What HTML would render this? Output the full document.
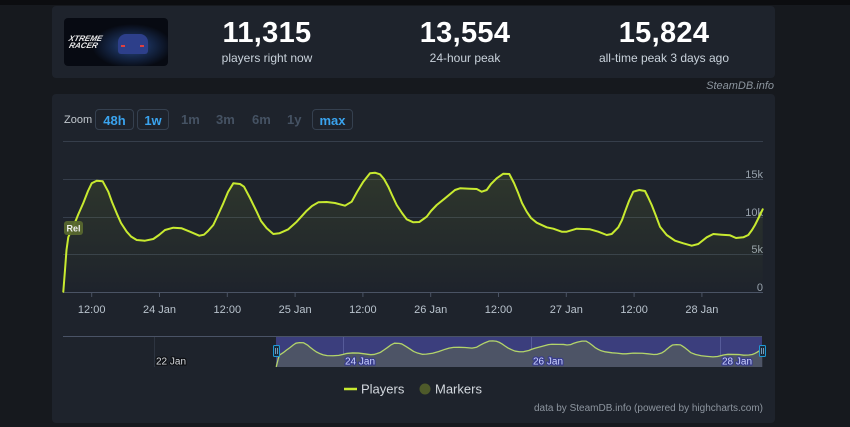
<!DOCTYPE html>
<html><head><meta charset="utf-8">
<style>
html,body{margin:0;padding:0;}
body{width:850px;height:427px;background:#16191e;position:relative;overflow:hidden;font-family:"Liberation Sans",sans-serif;}
.topbar{position:absolute;left:0;top:0;width:850px;height:5px;background:#0c0d10;}
.panel{position:absolute;left:52px;width:723px;background:#1e232c;border-radius:4px;}
.stat{position:absolute;top:17px;width:200px;text-align:center;color:#fff;}
.stat .n{font-size:29px;font-weight:bold;line-height:32px;letter-spacing:0.3px;}
.stat .l{font-size:12px;color:#c9d2db;margin-top:2px;line-height:14px;}
.img{position:absolute;left:64px;top:18px;width:104px;height:48px;border-radius:4px;overflow:hidden;
background:radial-gradient(ellipse 40px 22px at 68px 28px,#2b4a8c 0%,#16284a 50%,#070a12 100%);}
.btn{position:absolute;top:109px;height:21px;border:1px solid #35404f;border-radius:4px;color:#3aa3ee;font-weight:bold;font-size:13px;line-height:21px;text-align:center;box-sizing:border-box;}
.dim{position:absolute;top:109px;line-height:22px;font-size:13px;color:#455263;font-weight:bold;}
</style></head><body>
<div class="topbar"></div>
<div class="panel" style="top:6px;height:72px;"></div>
<div class="img">
  <div style="position:absolute;left:54px;top:16px;width:30px;height:20px;border-radius:8px 8px 3px 3px;background:#2d3f8a;"></div>
  <div style="position:absolute;left:57px;top:27px;width:4px;height:2px;background:#e04040;"></div>
  <div style="position:absolute;left:76px;top:27px;width:4px;height:2px;background:#e04040;"></div>
  <div style="position:absolute;left:4px;top:17px;font-size:8px;font-style:italic;font-weight:bold;color:#e8e8e8;line-height:7px;transform:skewX(-15deg);">XTREME<br>&nbsp;RACER</div>
</div>
<div class="stat" style="left:167px;"><div class="n">11,315</div><div class="l">players right now</div></div>
<div class="stat" style="left:365px;"><div class="n">13,554</div><div class="l">24-hour peak</div></div>
<div class="stat" style="left:564px;"><div class="n">15,824</div><div class="l">all-time peak 3 days ago</div></div>
<div style="position:absolute;right:76px;top:80px;font-size:11px;font-style:italic;color:#8c959e;">SteamDB.info</div>

<div class="panel" style="top:94px;height:329px;"></div>
<div style="position:absolute;left:64px;top:114px;font-size:11px;color:#c2c8ce;">Zoom</div>
<div class="btn" style="left:95px;width:39px;">48h</div>
<div class="btn" style="left:137px;width:32px;">1w</div>
<div class="dim" style="left:181px;">1m</div>
<div class="dim" style="left:216px;">3m</div>
<div class="dim" style="left:252px;">6m</div>
<div class="dim" style="left:287px;">1y</div>
<div class="btn" style="left:312px;width:41px;">max</div>

<svg width="850" height="427" style="position:absolute;left:0;top:0;" xmlns="http://www.w3.org/2000/svg">
<defs>
<linearGradient id="ag" x1="0" y1="0" x2="0" y2="1">
<stop offset="0" stop-color="#c5ea2e" stop-opacity="0.10"/>
<stop offset="1" stop-color="#c5ea2e" stop-opacity="0"/>
</linearGradient>
</defs>
<!-- gridlines -->
<g stroke="#363e4b" stroke-width="1">
<line x1="63" y1="141.5" x2="763" y2="141.5"/>
<line x1="63" y1="179.5" x2="763" y2="179.5"/>
<line x1="63" y1="217.5" x2="763" y2="217.5"/>
<line x1="63" y1="254.5" x2="763" y2="254.5"/>
</g>
<line x1="63" y1="292.5" x2="763" y2="292.5" stroke="#4a5364" stroke-width="1"/>
<g stroke="#4a5364" stroke-width="1">
<line x1="91.7" y1="292" x2="91.7" y2="297"/>
<line x1="159.5" y1="292" x2="159.5" y2="297"/>
<line x1="227.3" y1="292" x2="227.3" y2="297"/>
<line x1="295.1" y1="292" x2="295.1" y2="297"/>
<line x1="362.9" y1="292" x2="362.9" y2="297"/>
<line x1="430.7" y1="292" x2="430.7" y2="297"/>
<line x1="498.5" y1="292" x2="498.5" y2="297"/>
<line x1="566.3" y1="292" x2="566.3" y2="297"/>
<line x1="634.1" y1="292" x2="634.1" y2="297"/>
<line x1="701.9" y1="292" x2="701.9" y2="297"/>
</g>
<g font-family="Liberation Sans, sans-serif" font-size="11" fill="#b9c3cd" text-anchor="middle">
<text x="91.7" y="313">12:00</text>
<text x="159.5" y="313">24 Jan</text>
<text x="227.3" y="313">12:00</text>
<text x="295.1" y="313">25 Jan</text>
<text x="362.9" y="313">12:00</text>
<text x="430.7" y="313">26 Jan</text>
<text x="498.5" y="313">12:00</text>
<text x="566.3" y="313">27 Jan</text>
<text x="634.1" y="313">12:00</text>
<text x="701.9" y="313">28 Jan</text>
</g>
<g font-family="Liberation Sans, sans-serif" font-size="11" fill="#97a1ac" text-anchor="end">
<text x="763" y="178">15k</text>
<text x="763" y="216">10k</text>
<text x="763" y="253">5k</text>
<text x="763" y="291">0</text>
</g>
<!-- main series -->
<polygon fill="url(#ag)" points="63.3,291.7 65,270 66.5,250 68.3,237 73.3,226.7 78,215 83.3,203 88,191 91.7,183.3 96.7,180.7 102.7,181.3 108.3,191.7 112,202 116.7,213.3 121,223 126.7,231.7 131,236.5 136.7,240 145,240.7 153.3,239 159,235 165,230 173.3,227.7 181.7,228.3 190,231.7 199.3,235.7 204,234.7 208,231 213.3,225 218,215 223.3,203.3 228,192 233.3,183.3 240,184 244,186.7 250,198 256.7,211.7 261,221 266.7,228.3 273.3,234 279.3,233.3 288.3,229.3 296.7,221.7 306.7,210.7 312,206 318.3,202.3 326.7,202 335,203 345,205.7 351.7,201.7 357,192 363.3,181.7 370,173.3 375,172.7 380,174.3 384,179 388.3,186.7 392,195 396.7,205 402,213 406.7,219.3 413.3,222.3 419.3,222 426.7,216.7 431,211 436.7,205 445,198.3 455,190 460,188.3 470,188.7 476.7,189 481.7,191.7 486.7,190 491,184 496.7,178.3 503.3,173.7 509.3,174 514,183 518.3,193.3 522,203 526.7,211.7 531,218 536.7,222.7 546.7,227.3 553.3,228.7 561.7,231.7 566.7,231.7 576.7,228.7 590,229.3 598.3,231.7 606.7,235 611.7,234 618.3,227.3 622,220 625,211.7 629,201 633.3,191.7 639.3,190 645,191 648,197 651.7,205 656,216 660,226.7 666.7,235 675,240.7 683.3,243.3 691.7,245.7 698.3,244 706.7,237.3 713.3,234 721.7,234.7 730,235.3 736,238 743.3,237.3 748.3,235 752,230 755,225 759,217 762.7,209.3 762.7,292 63.3,292"/>
<polyline fill="none" stroke="#c8ea30" stroke-width="2" stroke-linejoin="round" stroke-linecap="round" points="63.3,291.7 65,270 66.5,250 68.3,237 73.3,226.7 78,215 83.3,203 88,191 91.7,183.3 96.7,180.7 102.7,181.3 108.3,191.7 112,202 116.7,213.3 121,223 126.7,231.7 131,236.5 136.7,240 145,240.7 153.3,239 159,235 165,230 173.3,227.7 181.7,228.3 190,231.7 199.3,235.7 204,234.7 208,231 213.3,225 218,215 223.3,203.3 228,192 233.3,183.3 240,184 244,186.7 250,198 256.7,211.7 261,221 266.7,228.3 273.3,234 279.3,233.3 288.3,229.3 296.7,221.7 306.7,210.7 312,206 318.3,202.3 326.7,202 335,203 345,205.7 351.7,201.7 357,192 363.3,181.7 370,173.3 375,172.7 380,174.3 384,179 388.3,186.7 392,195 396.7,205 402,213 406.7,219.3 413.3,222.3 419.3,222 426.7,216.7 431,211 436.7,205 445,198.3 455,190 460,188.3 470,188.7 476.7,189 481.7,191.7 486.7,190 491,184 496.7,178.3 503.3,173.7 509.3,174 514,183 518.3,193.3 522,203 526.7,211.7 531,218 536.7,222.7 546.7,227.3 553.3,228.7 561.7,231.7 566.7,231.7 576.7,228.7 590,229.3 598.3,231.7 606.7,235 611.7,234 618.3,227.3 622,220 625,211.7 629,201 633.3,191.7 639.3,190 645,191 648,197 651.7,205 656,216 660,226.7 666.7,235 675,240.7 683.3,243.3 691.7,245.7 698.3,244 706.7,237.3 713.3,234 721.7,234.7 730,235.3 736,238 743.3,237.3 748.3,235 752,230 755,225 759,217 762.7,209.3"/>
<!-- Rel marker -->
<rect x="64" y="221" width="19" height="14" rx="3" fill="#57672e" fill-opacity="0.95"/>
<text x="66.5" y="231.5" font-family="Liberation Sans, sans-serif" font-size="9" font-weight="bold" fill="#f0f0f0">Rel</text>

<!-- navigator -->
<rect x="276" y="337" width="486" height="30" fill="#3b3e7d"/>
<g stroke="#2d3440" stroke-width="1">
<line x1="154.5" y1="337" x2="154.5" y2="367"/>
</g>
<g stroke="#565b99" stroke-width="1">
<line x1="343.5" y1="337" x2="343.5" y2="367"/>
<line x1="531.5" y1="337" x2="531.5" y2="367"/>
<line x1="720.5" y1="337" x2="720.5" y2="367"/>
</g>
<g transform="matrix(0.695 0 0 0.219 232.215 303.052)">
<polygon fill="#4d5466" points="63.3,291.7 65,270 66.5,250 68.3,237 73.3,226.7 78,215 83.3,203 88,191 91.7,183.3 96.7,180.7 102.7,181.3 108.3,191.7 112,202 116.7,213.3 121,223 126.7,231.7 131,236.5 136.7,240 145,240.7 153.3,239 159,235 165,230 173.3,227.7 181.7,228.3 190,231.7 199.3,235.7 204,234.7 208,231 213.3,225 218,215 223.3,203.3 228,192 233.3,183.3 240,184 244,186.7 250,198 256.7,211.7 261,221 266.7,228.3 273.3,234 279.3,233.3 288.3,229.3 296.7,221.7 306.7,210.7 312,206 318.3,202.3 326.7,202 335,203 345,205.7 351.7,201.7 357,192 363.3,181.7 370,173.3 375,172.7 380,174.3 384,179 388.3,186.7 392,195 396.7,205 402,213 406.7,219.3 413.3,222.3 419.3,222 426.7,216.7 431,211 436.7,205 445,198.3 455,190 460,188.3 470,188.7 476.7,189 481.7,191.7 486.7,190 491,184 496.7,178.3 503.3,173.7 509.3,174 514,183 518.3,193.3 522,203 526.7,211.7 531,218 536.7,222.7 546.7,227.3 553.3,228.7 561.7,231.7 566.7,231.7 576.7,228.7 590,229.3 598.3,231.7 606.7,235 611.7,234 618.3,227.3 622,220 625,211.7 629,201 633.3,191.7 639.3,190 645,191 648,197 651.7,205 656,216 660,226.7 666.7,235 675,240.7 683.3,243.3 691.7,245.7 698.3,244 706.7,237.3 713.3,234 721.7,234.7 730,235.3 736,238 743.3,237.3 748.3,235 752,230 755,225 759,217 762.7,209.3 762.7,292 63.3,292"/>
<polyline fill="none" stroke="#b3d46a" stroke-width="1.3" vector-effect="non-scaling-stroke" stroke-linejoin="round" points="63.3,291.7 65,270 66.5,250 68.3,237 73.3,226.7 78,215 83.3,203 88,191 91.7,183.3 96.7,180.7 102.7,181.3 108.3,191.7 112,202 116.7,213.3 121,223 126.7,231.7 131,236.5 136.7,240 145,240.7 153.3,239 159,235 165,230 173.3,227.7 181.7,228.3 190,231.7 199.3,235.7 204,234.7 208,231 213.3,225 218,215 223.3,203.3 228,192 233.3,183.3 240,184 244,186.7 250,198 256.7,211.7 261,221 266.7,228.3 273.3,234 279.3,233.3 288.3,229.3 296.7,221.7 306.7,210.7 312,206 318.3,202.3 326.7,202 335,203 345,205.7 351.7,201.7 357,192 363.3,181.7 370,173.3 375,172.7 380,174.3 384,179 388.3,186.7 392,195 396.7,205 402,213 406.7,219.3 413.3,222.3 419.3,222 426.7,216.7 431,211 436.7,205 445,198.3 455,190 460,188.3 470,188.7 476.7,189 481.7,191.7 486.7,190 491,184 496.7,178.3 503.3,173.7 509.3,174 514,183 518.3,193.3 522,203 526.7,211.7 531,218 536.7,222.7 546.7,227.3 553.3,228.7 561.7,231.7 566.7,231.7 576.7,228.7 590,229.3 598.3,231.7 606.7,235 611.7,234 618.3,227.3 622,220 625,211.7 629,201 633.3,191.7 639.3,190 645,191 648,197 651.7,205 656,216 660,226.7 666.7,235 675,240.7 683.3,243.3 691.7,245.7 698.3,244 706.7,237.3 713.3,234 721.7,234.7 730,235.3 736,238 743.3,237.3 748.3,235 752,230 755,225 759,217 762.7,209.3"/>
</g>
<line x1="63" y1="336.5" x2="762" y2="336.5" stroke="#4a5366" stroke-width="1"/>
<g font-family="Liberation Sans, sans-serif" font-size="10" paint-order="stroke" stroke-width="2.5" stroke-linejoin="round">
<text x="156" y="364.5" fill="#d8dbe0" stroke="#0e1014">22 Jan</text>
<text x="345" y="364.5" fill="#ccd2ff" stroke="#383c8c">24 Jan</text>
<text x="533" y="364.5" fill="#ccd2ff" stroke="#383c8c">26 Jan</text>
<text x="722" y="364.5" fill="#ccd2ff" stroke="#383c8c">28 Jan</text>
</g>
<rect x="273.5" y="345.5" width="6" height="11" rx="1" fill="#1c2b3a" stroke="#1e9ad6" stroke-width="1"/>
<line x1="275.5" y1="348" x2="275.5" y2="354" stroke="#8fb8d8" stroke-width="0.8"/>
<line x1="277.5" y1="348" x2="277.5" y2="354" stroke="#8fb8d8" stroke-width="0.8"/>
<rect x="759.5" y="345.5" width="6" height="11" rx="1" fill="#1c2b3a" stroke="#1e9ad6" stroke-width="1"/>
<line x1="761.5" y1="348" x2="761.5" y2="354" stroke="#8fb8d8" stroke-width="0.8"/>
<line x1="763.5" y1="348" x2="763.5" y2="354" stroke="#8fb8d8" stroke-width="0.8"/>

<!-- legend -->
<line x1="344" y1="389" x2="357" y2="389" stroke="#c8ea30" stroke-width="2.5"/>
<text x="361" y="393.5" font-family="Liberation Sans, sans-serif" font-size="13" fill="#d3d8de">Players</text>
<circle cx="425" cy="389" r="5.5" fill="#4e5a2a"/>
<text x="435" y="393.5" font-family="Liberation Sans, sans-serif" font-size="13" fill="#d3d8de">Markers</text>
<text x="763" y="411" text-anchor="end" font-family="Liberation Sans, sans-serif" font-size="10" fill="#8d959f">data by SteamDB.info (powered by highcharts.com)</text>
</svg>
</body></html>
